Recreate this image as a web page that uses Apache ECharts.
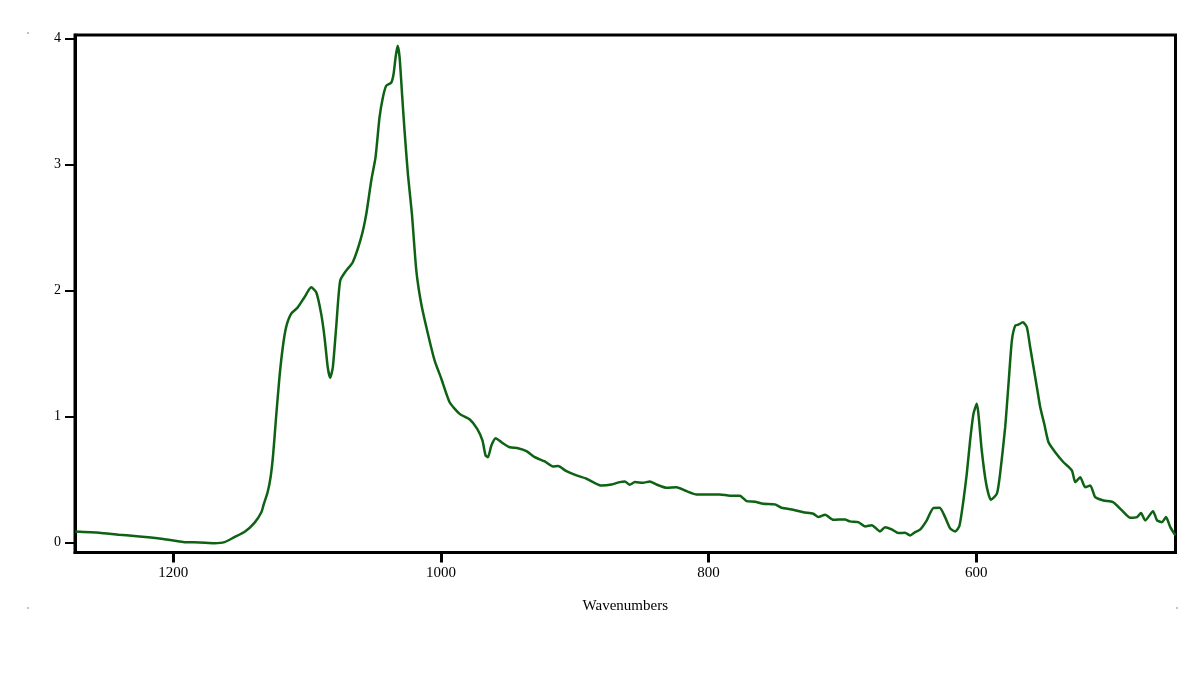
<!DOCTYPE html>
<html>
<head>
<meta charset="utf-8">
<title>Wavenumbers</title>
<script src="https://cdn.jsdelivr.net/npm/echarts@6/dist/echarts.min.js"></script>
<style>
  html, body { margin: 0; padding: 0; background: #fff; }
  #chart { width: 1200px; height: 675px; }
</style>
</head>
<body>
<div id="chart"></div>
<script>
// spectrum (wavenumber, absorbance)
var wavenumbers = [
    1273.3, 1255.4, 1240.4, 1225.4, 1210.5, 1200, 1191.8, 1180.5, 1169.3, 1161.8,
    1154.4, 1146.9, 1139.4, 1134.2, 1132.5, 1129.5, 1127.3, 1125.4, 1123.2, 1120.7,
    1118.2, 1115.7, 1112.0, 1107.0, 1102.0, 1097.0, 1093.2, 1089.5, 1087.0, 1084.6,
    1082.8, 1080.8, 1078.3, 1075.3, 1070.8, 1065.9, 1059.6, 1055.8, 1052.1, 1048.9,
    1045.9, 1043.4, 1040.9, 1037.1, 1035.4, 1033.9, 1032.4, 1030.9, 1028.9, 1027.2,
    1024.7, 1021.7, 1018.4, 1014.7, 1009.7, 1004.7, 999.7, 993.5, 986.0, 978.6,
    972.9, 969.0, 966.6, 964.9, 962.3, 959.1, 954.8, 948.6, 942.4, 936.1,
    929.9, 922.4, 916.2, 912.5, 906.2, 898.7, 891.2, 886.3, 880.0, 872.5,
    866.3, 862.6, 858.9, 855.1, 848.9, 843.9, 838.9, 831.4, 823.9, 816.4,
    808.9, 801.5, 791.5, 784.0, 776.6, 771.6, 765.3, 759.1, 750.4, 745.4,
    736.7, 729.2, 721.7, 717.9, 712.9, 706.8, 698.0, 694.3, 688.1, 683.0,
    678.0, 671.8, 668.1, 663.1, 658.1, 653.1, 649.4, 645.6, 641.9, 636.9,
    631.9, 627.3, 623.2, 619.5, 615.7, 612.5, 609.5, 607.0, 604.5, 602.0,
    599.5, 598.3, 595.8, 592.5, 589.0, 584.5, 582.1, 578.3, 575.8, 573.3,
    570.8, 568.4, 565.1, 562.1, 559.6, 557.1, 554.6, 552.1, 549.1, 545.9,
    540.9, 534.7, 528.4, 525.9, 522.2, 518.5, 514.7, 511.0, 504.8, 497.7,
    491.0, 484.8, 479.8, 476.8, 473.6, 467.8, 464.8, 461.1, 458.1, 454.9,
    451.1
];
var absorbance = [
    0.087, 0.077, 0.061, 0.048, 0.032, 0.016, 0.002, 0.0, -0.006, 0.002,
    0.042, 0.082, 0.155, 0.24, 0.30, 0.40, 0.52, 0.70, 0.996, 1.31,
    1.55, 1.71, 1.815, 1.867, 1.947, 2.026, 1.987, 1.815, 1.629, 1.391,
    1.307, 1.391, 1.709, 2.079, 2.159, 2.225, 2.423, 2.609, 2.873, 3.058,
    3.375, 3.534, 3.627, 3.653, 3.720, 3.852, 3.944, 3.852, 3.534, 3.270,
    2.926, 2.609, 2.159, 1.894, 1.656, 1.444, 1.30, 1.113, 1.021, 0.978,
    0.902, 0.810, 0.690, 0.677, 0.770, 0.828, 0.796, 0.756, 0.748, 0.725,
    0.677, 0.643, 0.603, 0.606, 0.566, 0.532, 0.506, 0.479, 0.452, 0.460,
    0.479, 0.484, 0.458, 0.479, 0.474, 0.484, 0.460, 0.434, 0.439, 0.407,
    0.381, 0.381, 0.381, 0.371, 0.371, 0.328, 0.323, 0.307, 0.302, 0.275,
    0.260, 0.240, 0.228, 0.201, 0.220, 0.180, 0.183, 0.167, 0.161, 0.127,
    0.137, 0.087, 0.121, 0.103, 0.074, 0.077, 0.056, 0.082, 0.101, 0.175,
    0.274, 0.275, 0.201, 0.113, 0.087, 0.131, 0.333, 0.545, 0.810, 1.021,
    1.101, 1.021, 0.730, 0.466, 0.339, 0.387, 0.545, 0.915, 1.260, 1.603,
    1.722, 1.730, 1.748, 1.709, 1.550, 1.391, 1.233, 1.074, 0.942, 0.796,
    0.717, 0.637, 0.571, 0.479, 0.518, 0.439, 0.452, 0.360, 0.333, 0.320,
    0.254, 0.196, 0.201, 0.233, 0.175, 0.248, 0.175, 0.161, 0.201, 0.121,
    0.056
];
var xTicks = [1200, 1000, 800, 600];
var yTicks = [0, 1, 2, 3, 4];

var chart = echarts.init(document.getElementById('chart'));

var points = [];
for (var i = 0; i < wavenumbers.length; i++) {
    points.push([wavenumbers[i], absorbance[i]]);
}

var font = "'Liberation Serif', 'DejaVu Serif', serif";

var option = {
    animation: false,
    backgroundColor: '#fff',
    grid: {
        left: 75,
        right: 24.5,
        top: 35,
        bottom: 122.5,
        show: true,
        borderColor: '#000',
        borderWidth: 3,
        backgroundColor: 'transparent'
    },
    xAxis: {
        type: 'value',
        inverse: true,
        min: 451,
        max: 1273.5,
        name: 'Wavenumbers',
        nameLocation: 'middle',
        nameGap: 46,
        nameTextStyle: { color: '#000', fontFamily: font, fontSize: 15 },
        splitLine: { show: false },
        axisLine: { show: true, onZero: false, lineStyle: { color: '#000', width: 3 } },
        axisTick: {
            show: true,
            customValues: xTicks,
            length: 10,
            lineStyle: { color: '#000', width: 3 }
        },
        axisLabel: {
            customValues: xTicks,
            margin: 13,
            color: '#000',
            fontFamily: font,
            fontSize: 15,
            formatter: function (v) { return String(v); }
        }
    },
    yAxis: {
        type: 'value',
        min: -0.08,
        max: 4.03,
        splitLine: { show: false },
        axisLine: { show: true, onZero: false, lineStyle: { color: '#000', width: 3 } },
        axisTick: {
            show: true,
            customValues: yTicks,
            length: 10,
            lineStyle: { color: '#000', width: 2 }
        },
        axisLabel: {
            customValues: yTicks,
            margin: 14,
            color: '#000',
            fontFamily: font,
            fontSize: 14,
            formatter: function (v) { return String(v); }
        }
    },
    series: [
        {
            type: 'line',
            data: points,
            showSymbol: false,
            smooth: 0.2,
            lineStyle: { color: '#0d6214', width: 2.5 },
            itemStyle: { color: '#0d6214' }
        }
    ],
    graphic: [
        { type: 'circle', shape: { cx: 28, cy: 33, r: 0.8 }, style: { fill: '#777' } },
        { type: 'circle', shape: { cx: 28, cy: 608, r: 0.8 }, style: { fill: '#777' } },
        { type: 'circle', shape: { cx: 1177, cy: 608, r: 0.8 }, style: { fill: '#777' } }
    ]
};

chart.setOption(option);
</script>
</body>
</html>
